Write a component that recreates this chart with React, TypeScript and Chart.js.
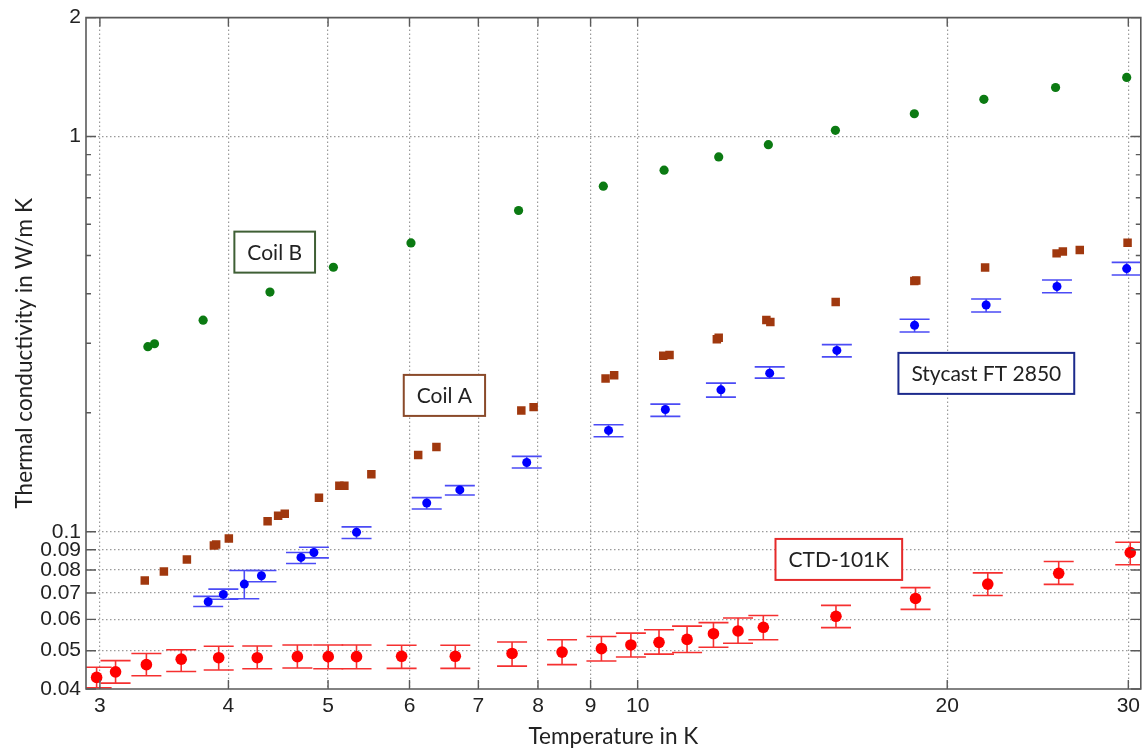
import React, { useEffect, useRef } from "react";
import { Chart, registerables } from "chart.js";

Chart.register(...registerables);

// ---- Data (temperature in K, thermal conductivity in W/m K) ----
const coilBTemp = [3.34, 3.39, 3.78, 4.39, 5.06, 6.02, 7.66, 9.26, 10.61, 11.99, 13.4, 15.57, 18.58, 21.71, 25.49, 29.89];
const coilBK = [0.294, 0.299, 0.343, 0.404, 0.467, 0.538, 0.65, 0.749, 0.822, 0.888, 0.954, 1.037, 1.142, 1.242, 1.331, 1.411];

const coilATemp = [3.317, 3.462, 3.645, 3.872, 3.892, 4.004, 4.367, 4.471, 4.538, 4.899, 5.128, 5.186, 5.509, 6.118, 6.373, 7.707, 7.922, 9.307, 9.488, 10.59, 10.74, 11.94, 11.99, 13.34, 13.46, 15.58, 18.58, 18.66, 21.77, 25.55, 25.91, 26.91, 29.95];
const coilAK = [0.0753, 0.0793, 0.0851, 0.0923, 0.0928, 0.0961, 0.1063, 0.1097, 0.111, 0.1219, 0.1307, 0.1307, 0.1397, 0.1563, 0.1638, 0.2027, 0.2067, 0.2442, 0.249, 0.279, 0.2801, 0.307, 0.3098, 0.3434, 0.3394, 0.3814, 0.4309, 0.4322, 0.4664, 0.5063, 0.5122, 0.516, 0.5384];

const stycastTemp = [3.823, 3.955, 4.145, 4.307, 4.706, 4.844, 5.329, 6.236, 6.716, 7.801, 9.369, 10.64, 12.05, 13.44, 15.62, 18.59, 21.82, 25.57, 29.89];
const stycastK = [0.0665, 0.0694, 0.0737, 0.0774, 0.0861, 0.0886, 0.0997, 0.1182, 0.1276, 0.1497, 0.1805, 0.2038, 0.2286, 0.2519, 0.2876, 0.333, 0.3748, 0.4174, 0.4634];
const stycastLow = [0.0647, 0.0675, 0.0677, 0.0747, 0.0831, 0.0859, 0.0961, 0.1142, 0.1239, 0.145, 0.1739, 0.1958, 0.2191, 0.2448, 0.277, 0.3202, 0.3598, 0.4024, 0.4463];
const stycastHigh = [0.0686, 0.0716, 0.0798, 0.0798, 0.0886, 0.0914, 0.1029, 0.122, 0.1308, 0.1551, 0.1865, 0.2104, 0.2377, 0.2613, 0.2975, 0.3448, 0.388, 0.4335, 0.4804];

const ctdTemp = [2.978, 3.107, 3.329, 3.599, 3.914, 4.267, 4.668, 5.002, 5.329, 5.895, 6.648, 7.549, 8.443, 9.221, 9.85, 10.49, 11.17, 11.85, 12.52, 13.25, 15.59, 18.63, 21.9, 25.67, 30.13];
const ctdK = [0.0428, 0.0442, 0.0461, 0.0476, 0.048, 0.048, 0.0483, 0.0483, 0.0483, 0.0484, 0.0484, 0.0492, 0.0496, 0.0506, 0.0517, 0.0525, 0.0534, 0.0552, 0.0561, 0.0573, 0.0611, 0.0678, 0.0737, 0.0785, 0.0886];
const ctdLow = [0.0403, 0.0414, 0.0432, 0.0443, 0.0447, 0.045, 0.0452, 0.045, 0.045, 0.0451, 0.0451, 0.0457, 0.0461, 0.0471, 0.0482, 0.049, 0.0495, 0.051, 0.0522, 0.0533, 0.0572, 0.0636, 0.069, 0.0736, 0.0825];
const ctdHigh = [0.0454, 0.0472, 0.0492, 0.0503, 0.0513, 0.0514, 0.0517, 0.0517, 0.0517, 0.0516, 0.0516, 0.0526, 0.0533, 0.0543, 0.0554, 0.0565, 0.0577, 0.0589, 0.0605, 0.0614, 0.0651, 0.0722, 0.0787, 0.0841, 0.0941];

// ---- Axes ----
const xTicks = [3, 4, 5, 6, 7, 8, 9, 10, 20, 30];
const xTickLabels = ["3", "4", "5", "6", "7", "8", "9", "10", "20", "30"];
const yTicks = [0.04, 0.05, 0.06, 0.07, 0.08, 0.09, 0.1, 1, 2];
const yTickLabels = ["0.04", "0.05", "0.06", "0.07", "0.08", "0.09", "0.1", "1", "2"];
const yMinorTicks = [0.2, 0.3, 0.4, 0.5, 0.6, 0.7, 0.8, 0.9];
const xMin = 2.908;
const xMax = 30.85;
const yMin = 0.04;
const yMax = 2;

// ---- Text boxes (anchored at data coordinates) ----
const boxLabels = ["Coil B", "Coil A", "Stycast FT 2850", "CTD-101K"];
const boxX = [4.437, 6.488, 21.83, 15.69];
const boxY = [0.51, 0.2213, 0.2516, 0.0851];
const boxColors = ["#3f5f35", "#8a4a2a", "#1c2a8c", "#e52a2a"];

const pts = (xs: number[], ys: number[]) => xs.map((x, i) => ({ x, y: ys[i] }));

const errorBarPlugin = {
  id: "errorBars",
  beforeDatasetsDraw(chart: any) {
    const { ctx, chartArea, scales } = chart;
    const x = scales.x;
    const y = scales.y;
    ctx.save();
    ctx.beginPath();
    ctx.rect(chartArea.left, chartArea.top, chartArea.right - chartArea.left, chartArea.bottom - chartArea.top);
    ctx.clip();
    chart.data.datasets.forEach((ds: any) => {
      if (!ds.errLow) return;
      ctx.strokeStyle = ds.errColor;
      ctx.lineWidth = 1.6;
      ds.data.forEach((p: any, i: number) => {
        const px = x.getPixelForValue(p.x);
        const pl = y.getPixelForValue(ds.errLow[i]);
        const ph = y.getPixelForValue(ds.errHigh[i]);
        const hw = 15;
        ctx.beginPath();
        ctx.moveTo(px, pl);
        ctx.lineTo(px, ph);
        ctx.moveTo(px - hw, pl);
        ctx.lineTo(px + hw, pl);
        ctx.moveTo(px - hw, ph);
        ctx.lineTo(px + hw, ph);
        ctx.stroke();
      });
    });
    ctx.restore();
  },
};

const framePlugin = {
  id: "frame",
  afterDatasetsDraw(chart: any) {
    const { ctx, chartArea, scales } = chart;
    const x = scales.x;
    const y = scales.y;
    const { left, right, top, bottom } = chartArea;
    ctx.save();
    ctx.strokeStyle = "#5a5a5a";
    ctx.lineWidth = 1.6;
    ctx.beginPath();
    ctx.moveTo(left, top);
    ctx.lineTo(right, top);
    ctx.lineTo(right, bottom);
    ctx.lineTo(left, bottom);
    ctx.closePath();
    ctx.stroke();
    ctx.lineWidth = 1.4;
    ctx.beginPath();
    xTicks.forEach((v) => {
      const px = x.getPixelForValue(v);
      ctx.moveTo(px, bottom);
      ctx.lineTo(px, bottom - 9);
      ctx.moveTo(px, top);
      ctx.lineTo(px, top + 9);
    });
    yTicks.forEach((v) => {
      const py = y.getPixelForValue(v);
      ctx.moveTo(left, py);
      ctx.lineTo(left + 10, py);
      ctx.moveTo(right, py);
      ctx.lineTo(right - 10, py);
    });
    yMinorTicks.forEach((v) => {
      const py = y.getPixelForValue(v);
      ctx.moveTo(left, py);
      ctx.lineTo(left + 5, py);
      ctx.moveTo(right, py);
      ctx.lineTo(right - 5, py);
    });
    ctx.stroke();
    ctx.restore();
  },
};

const boxPlugin = {
  id: "textBoxes",
  afterDatasetsDraw(chart: any) {
    const { ctx, scales } = chart;
    const x = scales.x;
    const y = scales.y;
    ctx.save();
    ctx.font = '21px Lato, "Open Sans", sans-serif';
    ctx.textAlign = "center";
    ctx.textBaseline = "middle";
    boxLabels.forEach((label, i) => {
      const cx = x.getPixelForValue(boxX[i]);
      const cy = y.getPixelForValue(boxY[i]);
      const tw = ctx.measureText(label).width;
      const w = tw + 26;
      const h = 41;
      ctx.fillStyle = "#ffffff";
      ctx.fillRect(cx - w / 2, cy - h / 2, w, h);
      ctx.strokeStyle = boxColors[i];
      ctx.lineWidth = 2;
      ctx.strokeRect(cx - w / 2, cy - h / 2, w, h);
      ctx.fillStyle = "#222222";
      ctx.fillText(label, cx, cy + 1);
    });
    ctx.restore();
  },
};

export default function App() {
  const canvasRef = useRef<HTMLCanvasElement | null>(null);

  useEffect(() => {
    if (!canvasRef.current) return;
    const gridColor = (edgeLow: number, edgeHigh: number) => (c: any) => {
      const v = c.tick ? c.tick.value : NaN;
      if (Math.abs(v - edgeLow) < 1e-9 || Math.abs(v - edgeHigh) < 1e-9) return "rgba(0,0,0,0)";
      return "#9a9a9a";
    };
    const chart = new Chart(canvasRef.current, {
      type: "scatter",
      data: {
        datasets: [
          {
            label: "Coil B",
            data: pts(coilBTemp, coilBK),
            pointStyle: "circle",
            pointRadius: 4.6,
            backgroundColor: "#0b7a12",
            borderColor: "#0b7a12",
            borderWidth: 0,
          },
          {
            label: "Coil A",
            data: pts(coilATemp, coilAK),
            pointStyle: "rect",
            pointRadius: 6,
            backgroundColor: "#a0380e",
            borderColor: "#a0380e",
            borderWidth: 0,
          },
          {
            label: "Stycast FT 2850",
            data: pts(stycastTemp, stycastK),
            pointStyle: "circle",
            pointRadius: 4.5,
            backgroundColor: "#0000ff",
            borderColor: "#0000ff",
            borderWidth: 0,
            errLow: stycastLow,
            errHigh: stycastHigh,
            errColor: "#4b4bf5",
          } as any,
          {
            label: "CTD-101K",
            data: pts(ctdTemp, ctdK),
            pointStyle: "circle",
            pointRadius: 5.8,
            backgroundColor: "#ff0000",
            borderColor: "#ff0000",
            borderWidth: 0,
            errLow: ctdLow,
            errHigh: ctdHigh,
            errColor: "#f53030",
          } as any,
        ],
      },
      options: {
        responsive: false,
        animation: false,
        devicePixelRatio: 1,
        layout: { padding: { top: 16, left: 0, right: 0, bottom: 0 }, autoPadding: false },
        plugins: {
          legend: { display: false },
          tooltip: { enabled: false },
        },
        scales: {
          x: {
            type: "logarithmic",
            position: "bottom",
            min: xMin,
            max: xMax,
            afterBuildTicks: (scale: any) => {
              scale.ticks = xTicks.map((v) => ({ value: v }));
            },
            afterFit: (scale: any) => {
              scale.height = 60;
            },
            ticks: {
              autoSkip: false,
              maxRotation: 0,
              padding: 5,
              color: "#222",
              font: { family: '"Liberation Sans", Arial, sans-serif', size: 21 },
              callback: (v: any) => {
                const i = xTicks.indexOf(Number(v));
                return i >= 0 ? xTickLabels[i] : "";
              },
            },
            grid: { color: gridColor(-1, -1), lineWidth: 1.2, drawTicks: false },
            border: { display: false, dash: [1.5, 2.5] },
            title: {
              display: true,
              text: "Temperature in K",
              color: "#222",
              font: { family: "Lato, sans-serif", size: 22.6, lineHeight: 1 },
              padding: { top: 0, bottom: 1 },
            },
          },
          y: {
            type: "logarithmic",
            position: "left",
            min: yMin,
            max: yMax,
            afterBuildTicks: (scale: any) => {
              scale.ticks = yTicks.map((v) => ({ value: v }));
            },
            afterFit: (scale: any) => {
              scale.width = 86;
            },
            ticks: {
              autoSkip: false,
              padding: 5,
              color: "#222",
              font: { family: '"Liberation Sans", Arial, sans-serif', size: 21 },
              callback: (v: any) => {
                const i = yTicks.findIndex((t) => Math.abs(t - Number(v)) < 1e-9);
                return i >= 0 ? yTickLabels[i] : "";
              },
            },
            grid: { color: gridColor(yMin, yMax), lineWidth: 1.2, drawTicks: false },
            border: { display: false, dash: [1.5, 2.5] },
            title: {
              display: true,
              text: "Thermal conductivity in W/m K",
              color: "#222",
              font: { family: "Lato, sans-serif", size: 22.6, lineHeight: 1 },
              padding: { top: 13, bottom: 0 },
            },
          },
        },
      },
      plugins: [errorBarPlugin, framePlugin, boxPlugin],
    } as any);
    return () => chart.destroy();
  }, []);

  return (
    <div style={{ position: "fixed", left: 0, top: 0, width: 1145, height: 749, background: "#ffffff" }}>
      <canvas ref={canvasRef} width={1145} height={749} style={{ display: "block", width: 1145, height: 749 }} />
    </div>
  );
}
